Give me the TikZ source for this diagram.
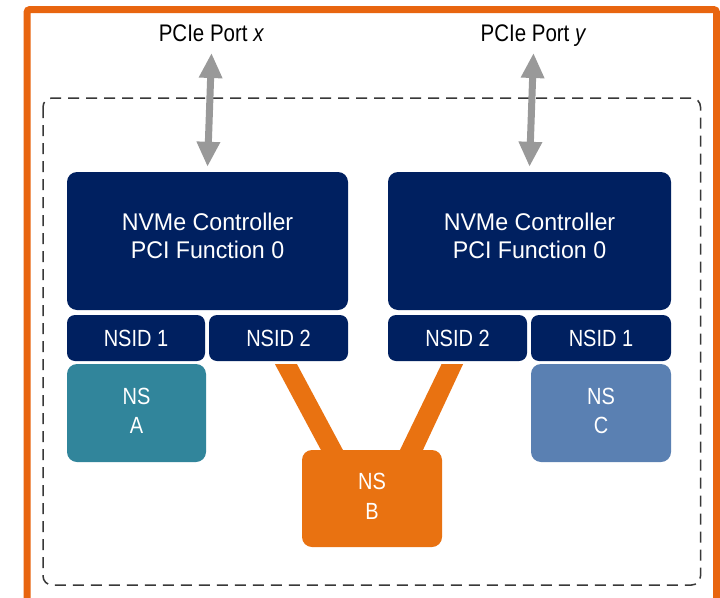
\documentclass[tikz,border=0pt]{standalone}
\usepackage{fontspec}
\setmainfont{Liberation Sans}
\usetikzlibrary{arrows.meta,calc}
\definecolor{navy}{HTML}{002060}
\definecolor{teal}{HTML}{31859B}
\definecolor{steel}{HTML}{5A80B2}
\definecolor{orng}{HTML}{E97211}
\definecolor{frameorng}{HTML}{E8650F}
\definecolor{garr}{HTML}{999999}
\definecolor{dashc}{HTML}{383838}
\newcommand{\vs}[1]{\scalebox{1}[1.17]{#1}}
\newcommand{\vc}[1]{\scalebox{1}[1.04]{#1}}
\newcommand{\twol}[2]{\vs{\begin{tabular}{@{}c@{}}#1\\#2\end{tabular}}}
\newcommand{\twoc}[2]{\vc{\begin{tabular}{@{}c@{}}#1\\#2\end{tabular}}}
\tikzset{
  box/.style={rectangle, inner sep=0pt, text=white, font=\fontsize{20}{31}\selectfont},
  ctrl/.style={box, fill=navy, rounded corners=10pt, minimum height=138pt},
  ctrltext/.style={inner sep=0pt, text=white, font=\fontsize{23.2}{26.6}\selectfont},
  nsid/.style={box, fill=navy, rounded corners=8pt, minimum width=139pt, minimum height=46pt},
  nsbox/.style={box, rounded corners=10pt, minimum width=139pt, minimum height=98pt, font=\fontsize{20}{25.6}\selectfont},
  portlbl/.style={inner sep=0pt, anchor=base, font=\fontsize{20.5}{24}\selectfont},
  garrow/.style={draw=garr, line width=7pt, {Triangle[width=22pt,length=25pt]}-{Triangle[width=22pt,length=25pt]}},
  band/.style={fill=orng},
}
\begin{document}
\begin{tikzpicture}[x=1pt,y=-1pt]
\useasboundingbox (0,0) rectangle (720,597);
\clip (0,0) rectangle (720,597);
\fill[white] (0,0) rectangle (720,597);
% orange frame
\draw[frameorng, line width=7pt, rounded corners=3pt] (27,610) -- (27,9.5) -- (716.5,9.5) -- (716.5,610);
% dashed enclosure
\draw[dashc, line width=1.5pt, dash pattern=on 11pt off 7pt, rounded corners=9pt] (43,98) rectangle (700.5,585);

% labels
\node[portlbl] (px) at (211.5,41) {\vs{PCIe Port \textit{x}}};
\node[portlbl] (py) at (533.5,41) {\vs{PCIe Port \textit{y}}};

% controllers
\node[ctrl, minimum width=281pt] (cl) at (207.5,241) {};
\node[ctrl, minimum width=283pt] (cr) at (529.5,241) {};
\node[ctrltext] (clt) at ([yshift=2pt]cl.center) {\twoc{NVMe Controller}{PCI Function 0}};
\node[ctrltext] (crt) at ([yshift=2pt]cr.center) {\twoc{NVMe Controller}{PCI Function 0}};

% NSIDs
\node[nsid, minimum width=138pt] (l1) at (136,338) {\vs{NSID 1}};
\node[nsid] (l2) at (278.5,338) {\vs{NSID 2}};
\node[nsid] (r2) at (457.5,338) {\vs{NSID 2}};
\node[nsid, minimum width=140pt] (r1) at (601,338) {\vs{NSID 1}};

% namespace B connectors (drawn first, under NS B)
\coordinate (nbtop) at (372,450);
\fill[band] ($(l2.south)+(-3.5,3)$) -- ($(l2.south)+(18.5,3)$) -- ($(nbtop)+(-28,2)$) -- ($(nbtop)+(-50,2)$) -- cycle;
\fill[band] ($(r2.south)+(-16,3)$) -- ($(r2.south)+(5.5,3)$) -- ($(nbtop)+(50,2)$) -- ($(nbtop)+(27,2)$) -- cycle;

% namespaces
\node[nsbox, fill=teal] (na) at (136.5,413) {\twol{NS}{A}};
\node[nsbox, fill=orng, minimum width=140pt, minimum height=97pt] (nb) at (372,498.5) {\twol{NS}{B}};
\node[nsbox, fill=steel, minimum width=140pt] (nc) at (601,413) {\twol{NS}{C}};

% PCIe arrows
\draw[garrow] ([yshift=-12pt]px.base) -- ([yshift=5pt]cl.north);
\draw[garrow] ([yshift=-12pt]py.base) -- ([yshift=5pt]cr.north);
\end{tikzpicture}
\end{document}
